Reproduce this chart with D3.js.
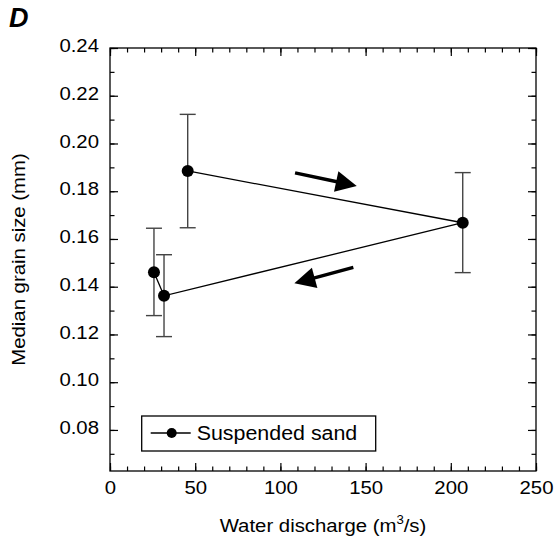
<!DOCTYPE html>
<html><head><meta charset="utf-8">
<script src="https://cdn.jsdelivr.net/npm/d3@7"></script>
<style>
body{margin:0;background:#fff}
text{font-family:"Liberation Sans",Arial,Helvetica,sans-serif;fill:#000}
</style>
</head><body>
<svg id="chart" width="559" height="545"></svg>
<script>
// ---- data (in drawing order of the connecting line) ----
const discharge = [45.6, 207, 31.7, 25.8];          // m^3/s
const grainSize = [0.1885, 0.1668, 0.1362, 0.1461]; // mm
const errLow    = [0.1647, 0.1459, 0.1191, 0.1279];
const errHigh   = [0.2122, 0.1878, 0.1534, 0.1645];
const xTickVals = [0, 50, 100, 150, 200, 250];
const yTickVals = [0.08, 0.10, 0.12, 0.14, 0.16, 0.18, 0.20, 0.22, 0.24];
const xMinorVals = d3.range(0, 251, 10);
const yMinorVals = [0.07,0.08,0.09,0.10,0.11,0.12,0.13,0.14,0.15,0.16,0.17,0.18,0.19,0.20,0.21,0.22,0.23,0.24];
// direction arrows: tail -> tip in data units
const arrowX0 = [108.6, 142.8];
const arrowY0 = [0.1877, 0.1481];
const arrowX1 = [144.8, 108.2];
const arrowY1 = [0.1822, 0.1414];
const seriesName = "Suspended sand";
const xTitle = "Water discharge (m";
const yTitle = "Median grain size (mm)";
const panelLabel = "D";

const svg = d3.select("#chart");
const L = 110, R = 536, T = 48, B = 471;
const x = d3.scaleLinear().domain([0, 250]).range([L, R]);
const y = d3.scaleLinear().domain([0.0628, 0.24]).range([B, T]);
const SX = 1.1; // horizontal stretch of glyphs

function stretch(sel, s) {
  sel.each(function(){
    const t = d3.select(this);
    const xv = +t.attr("x") || 0;
    const yv = +t.attr("y") || 0;
    t.attr("x", 0).attr("y", 0).attr("transform", `translate(${xv},${yv}) scale(${s},1)`);
  });
}

const fmtY = d3.format(".2f");
function styleAxis(g, major) {
  g.select(".domain").remove();
  g.selectAll("line").attr("stroke", "#000").attr("stroke-width", 1.2);
  if (!major) g.selectAll("text").remove();
}

// minor ticks
svg.append("g").attr("transform", `translate(0,${B})`)
  .call(d3.axisBottom(x).tickValues(xMinorVals).tickSize(-4.5).tickFormat("")).call(styleAxis, false);
svg.append("g").attr("transform", `translate(0,${T})`)
  .call(d3.axisTop(x).tickValues(xMinorVals).tickSize(-4.5).tickFormat("")).call(styleAxis, false);
svg.append("g").attr("transform", `translate(${L},0)`)
  .call(d3.axisLeft(y).tickValues(yMinorVals).tickSize(-4.5).tickFormat("")).call(styleAxis, false);
svg.append("g").attr("transform", `translate(${R},0)`)
  .call(d3.axisRight(y).tickValues(yMinorVals).tickSize(-4.5).tickFormat("")).call(styleAxis, false);

// major ticks
const gx = svg.append("g").attr("transform", `translate(0,${B})`)
  .call(d3.axisBottom(x).tickValues(xTickVals).tickSize(-8).tickPadding(10).tickFormat(d3.format("d")));
gx.call(styleAxis, true);
gx.selectAll("text").attr("font-size", 18.5).attr("font-family", null);
stretch(gx.selectAll("text"), SX);

svg.append("g").attr("transform", `translate(0,${T})`)
  .call(d3.axisTop(x).tickValues(xTickVals).tickSize(-8).tickFormat("")).call(styleAxis, false);

const gy = svg.append("g").attr("transform", `translate(${L},0)`)
  .call(d3.axisLeft(y).tickValues(yTickVals).tickSize(-8).tickPadding(11).tickFormat(fmtY));
gy.call(styleAxis, true);
gy.selectAll("text").attr("font-size", 18.5).attr("font-family", null).attr("dy", "0.2em");
stretch(gy.selectAll("text"), SX);

svg.append("g").attr("transform", `translate(${R},0)`)
  .call(d3.axisRight(y).tickValues(yTickVals).tickSize(-8).tickFormat("")).call(styleAxis, false);

// frame
svg.append("rect").attr("x", L).attr("y", T).attr("width", R - L).attr("height", B - T)
  .attr("fill", "none").attr("stroke", "#000").attr("stroke-width", 1.3);

// error bars
const idx = d3.range(discharge.length);
const cap = 8;
const eb = svg.append("g").attr("stroke", "#444").attr("stroke-width", 1.4);
idx.forEach(i => {
  eb.append("line").attr("x1", x(discharge[i])).attr("x2", x(discharge[i]))
    .attr("y1", y(errLow[i])).attr("y2", y(errHigh[i]));
  eb.append("line").attr("x1", x(discharge[i]) - cap).attr("x2", x(discharge[i]) + cap)
    .attr("y1", y(errLow[i])).attr("y2", y(errLow[i]));
  eb.append("line").attr("x1", x(discharge[i]) - cap).attr("x2", x(discharge[i]) + cap)
    .attr("y1", y(errHigh[i])).attr("y2", y(errHigh[i]));
});

// connecting line
svg.append("path").datum(idx)
  .attr("d", d3.line().x(i => x(discharge[i])).y(i => y(grainSize[i])))
  .attr("fill", "none").attr("stroke", "#000").attr("stroke-width", 1.3);

// markers
svg.append("g").selectAll("circle").data(idx).join("circle")
  .attr("cx", i => x(discharge[i])).attr("cy", i => y(grainSize[i])).attr("r", 6).attr("fill", "#000");

// arrows
arrowX0.forEach((_, i) => {
  const x0 = x(arrowX0[i]), y0 = y(arrowY0[i]), x1 = x(arrowX1[i]), y1 = y(arrowY1[i]);
  const ang = Math.atan2(y1 - y0, x1 - x0);
  const hl = 21, hw = 10.5;
  const bx = x1 - hl * Math.cos(ang), by = y1 - hl * Math.sin(ang);
  svg.append("line").attr("x1", x0).attr("y1", y0).attr("x2", bx + 2 * Math.cos(ang)).attr("y2", by + 2 * Math.sin(ang))
    .attr("stroke", "#000").attr("stroke-width", 3.5);
  const px = -Math.sin(ang), py = Math.cos(ang);
  svg.append("path")
    .attr("d", `M${x1},${y1}L${bx + hw * px},${by + hw * py}L${bx - hw * px},${by - hw * py}Z`)
    .attr("fill", "#000");
});

// legend
const lg = svg.append("g");
lg.append("rect").attr("x", 141.7).attr("y", 416).attr("width", 234).attr("height", 35)
  .attr("fill", "#fff").attr("stroke", "#000").attr("stroke-width", 1.3);
lg.append("line").attr("x1", 150.7).attr("x2", 190.7).attr("y1", 433).attr("y2", 433)
  .attr("stroke", "#000").attr("stroke-width", 1.3);
lg.append("circle").attr("cx", 171.7).attr("cy", 433).attr("r", 5).attr("fill", "#000");
lg.append("g").attr("transform", "translate(196.7,439.5) scale(1.07,1)")
  .append("text").attr("font-size", 20).text(seriesName);

// axis titles
const xt = svg.append("g").attr("transform", `translate(${(L + R) / 2},531.7) scale(${SX},1)`)
  .append("text").attr("text-anchor", "middle").attr("font-size", 18.5);
xt.append("tspan").text(xTitle);
xt.append("tspan").attr("font-size", 12).attr("dy", -8).text("3");
xt.append("tspan").attr("dy", 8).text("/s)");

svg.append("g").attr("transform", `translate(25,${(T + B) / 2}) rotate(-90) scale(${SX},1)`)
  .append("text").attr("text-anchor", "middle").attr("font-size", 18.5).text(yTitle);

// panel label
svg.append("text").attr("x", 9).attr("y", 26.5).attr("font-size", 27)
  .attr("font-weight", "bold").attr("font-style", "italic").text(panelLabel);
</script>
</body></html>
